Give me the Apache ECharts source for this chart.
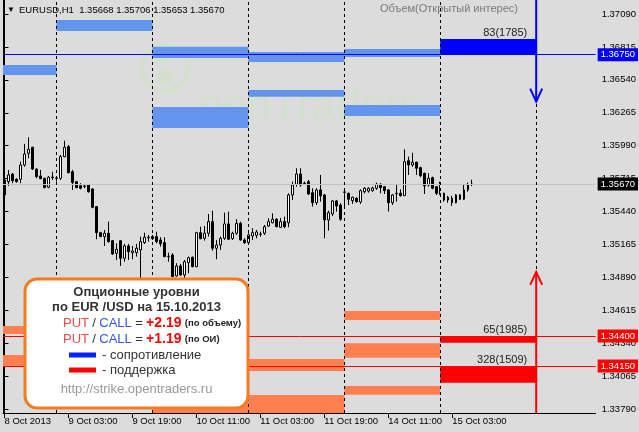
<!DOCTYPE html>
<html><head><meta charset="utf-8">
<script src="https://cdn.jsdelivr.net/npm/echarts@6/dist/echarts.min.js"></script>
<style>html,body{margin:0;padding:0;background:#dcdcdc}#c{width:639px;height:432px}</style>
</head><body><div id="c"></div><script>
const symbolName = 'EURUSD,H1';
const opens = [1.35704,1.35690,1.35754,1.35710,1.35710,1.35829,1.35927,1.35977,1.35794,1.35737,
1.35718,1.35643,1.35723,1.35721,1.35718,1.35899,1.35982,1.35773,1.35690,1.35656,
1.35654,1.35662,1.35629,1.35481,1.35264,1.35231,1.35259,1.35197,1.35092,1.35197,
1.35050,1.35153,1.35097,1.35097,1.35120,1.35181,1.35222,1.35231,1.35231,1.35203,
1.35181,1.35064,1.35078,1.34903,1.34986,1.34911,1.35014,1.35059,1.34980,1.35264,
1.35217,1.35259,1.35356,1.35134,1.35161,1.35217,1.35337,1.35214,1.35259,1.35342,
1.35203,1.35181,1.35236,1.35242,1.35251,1.35259,1.35320,1.35347,1.35376,1.35309,
1.35356,1.35347,1.35579,1.35668,1.35754,1.35677,1.35690,1.35598,1.35514,1.35621,
1.35579,1.35370,1.35420,1.35529,1.35495,1.35604,1.35593,1.35531,1.35551,1.35520,
1.35606,1.35612,1.35615,1.35635,1.35668,1.35648,1.35621,1.35514,1.35590,1.35593,
1.35573,1.35865,1.35829,1.35852,1.35807,1.35760,1.35662,1.35723,1.35648,1.35593,
1.35593,1.35560,1.35551,1.35514,1.35579,1.35543,1.35621,1.35668];
const closes = [1.35579,1.35746,1.35698,1.35690,1.35829,1.35921,1.35960,1.35796,1.35732,1.35715,
1.35640,1.35727,1.35729,1.35718,1.35899,1.35977,1.35765,1.35682,1.35640,1.35635,
1.35651,1.35606,1.35476,1.35264,1.35231,1.35259,1.35189,1.35086,1.35125,1.35050,
1.35153,1.35105,1.35111,1.35134,1.35189,1.35226,1.35226,1.35214,1.35189,1.35170,
1.35064,1.35067,1.34897,1.34986,1.34911,1.35022,1.35055,1.34980,1.35264,1.35214,
1.35259,1.35356,1.35134,1.35161,1.35217,1.35337,1.35209,1.35259,1.35342,1.35203,
1.35181,1.35245,1.35264,1.35270,1.35253,1.35314,1.35356,1.35376,1.35314,1.35356,
1.35314,1.35579,1.35662,1.35754,1.35662,1.35673,1.35587,1.35514,1.35621,1.35571,
1.35370,1.35431,1.35529,1.35487,1.35376,1.35601,1.35543,1.35560,1.35523,1.35615,
1.35635,1.35635,1.35637,1.35668,1.35640,1.35615,1.35514,1.35579,1.35593,1.35573,
1.35857,1.35829,1.35852,1.35802,1.35740,1.35654,1.35718,1.35635,1.35593,1.35590,
1.35537,1.35537,1.35514,1.35579,1.35543,1.35621,1.35662,1.35670];
const lows = [1.35562,1.35654,1.35677,1.35682,1.35677,1.35815,1.35885,1.35788,1.35718,1.35710,
1.35635,1.35635,1.35704,1.35690,1.35704,1.35894,1.35760,1.35621,1.35635,1.35626,
1.35635,1.35598,1.35468,1.35209,1.35226,1.35153,1.35181,1.35078,1.35036,1.34986,
1.35022,1.35036,1.35042,1.35064,1.34883,1.35170,1.35189,1.35203,1.35175,1.35147,
1.35059,1.35022,1.34892,1.34897,1.34903,1.34883,1.34925,1.34975,1.34975,1.35209,
1.35197,1.35231,1.35114,1.35042,1.35120,1.35203,1.35203,1.35203,1.35245,1.35197,
1.35170,1.35175,1.35203,1.35217,1.35231,1.35245,1.35314,1.35342,1.35309,1.35303,
1.35301,1.35309,1.35537,1.35648,1.35648,1.35662,1.35579,1.35481,1.35495,1.35523,
1.35217,1.35281,1.35403,1.35440,1.35364,1.35481,1.35495,1.35504,1.35514,1.35504,
1.35593,1.35598,1.35606,1.35621,1.35593,1.35587,1.35440,1.35495,1.35523,1.35565,
1.35570,1.35746,1.35815,1.35746,1.35727,1.35587,1.35648,1.35626,1.35579,1.35579,
1.35523,1.35514,1.35487,1.35509,1.35537,1.35537,1.35606,1.35653];
const highs = [1.35721,1.35788,1.35760,1.35718,1.35857,1.36005,1.36061,1.35982,1.35802,1.35788,
1.35723,1.35737,1.35773,1.35732,1.35913,1.36032,1.35996,1.35788,1.35696,1.35677,
1.35671,1.35671,1.35635,1.35487,1.35272,1.35287,1.35356,1.35203,1.35175,1.35203,
1.35170,1.35170,1.35153,1.35170,1.35231,1.35264,1.35245,1.35245,1.35272,1.35226,
1.35226,1.35097,1.35092,1.35009,1.35003,1.35036,1.35064,1.35064,1.35272,1.35314,
1.35320,1.35420,1.35448,1.35203,1.35231,1.35431,1.35439,1.35272,1.35376,1.35356,
1.35217,1.35259,1.35301,1.35287,1.35272,1.35328,1.35384,1.35426,1.35384,1.35387,
1.35398,1.35593,1.35690,1.35802,1.35802,1.35690,1.35704,1.35635,1.35635,1.35746,
1.35587,1.35448,1.35537,1.35537,1.35509,1.35621,1.35598,1.35565,1.35560,1.35626,
1.35643,1.35643,1.35648,1.35682,1.35677,1.35654,1.35626,1.35587,1.35662,1.35626,
1.35960,1.35899,1.35932,1.35857,1.35815,1.35765,1.35760,1.35732,1.35654,1.35690,
1.35598,1.35571,1.35571,1.35587,1.35587,1.35662,1.35682,1.35706];

const timeTickIndex = [0,16,32,48,64,80,96,112];
const timeTickLabels = ['8 Oct 2013','9 Oct 03:00','9 Oct 19:00','10 Oct 11:00','11 Oct 03:00','11 Oct 19:00','14 Oct 11:00','15 Oct 03:00'];
const priceTicks = [1.33790,1.34065,1.34340,1.34615,1.34890,1.35165,1.35440,1.35715,1.35990,1.36265,1.36540,1.36815,1.37090];
const dayStarts = [13,37,61,85,109,133];
const priceMin = 1.33758, priceMax = 1.37207;

// [fromBar, toBar, upperPrice, lowerPrice]
const resistanceZones = [
  [-11,13,1.36664,1.36581],
  [13,37,1.37040,1.36948],
  [37,61,1.36817,1.36722],
  [37,61,1.36314,1.36138],
  [61,85,1.36773,1.36689],
  [61,85,1.36456,1.36400],
  [85,109,1.36798,1.36730],
  [85,109,1.36330,1.36238]
];
const supportZones = [
  [-11,13,1.34485,1.34418],
  [-11,13,1.34243,1.34151],
  [37,61,1.33884,1.33758],
  [61,85,1.34209,1.34109],
  [61,85,1.33909,1.33758],
  [85,109,1.34610,1.34535],
  [85,109,1.34341,1.34220],
  [85,109,1.33984,1.33911]
];
const strongZones = [
  [109,133,1.36881,1.36750],
  [109,133,1.34400,1.34345],
  [109,133,1.34150,1.34011]
];
const strongLabels = ['83(1785)','65(1985)','328(1509)'];
const strongKinds = ['res','sup','sup'];
const levelLines = [1.36750,1.34400,1.34150];
const levelKinds = ['res','sup','sup'];
// [bar, fromPrice, tipPrice]
const arrows = [[133,1.37207,1.36358],[133,1.33758,1.34936]];
const arrowKinds = ['res','sup'];

const FONT = "'Liberation Sans', Arial, sans-serif";
const last = closes.length - 1;
const candleData = opens.map((o,i)=>[i,o,closes[i],lows[i],highs[i]]);

const chart = echarts.init(document.getElementById('c'), null, {renderer:'canvas'});

function clipTo(params, r){
  const cs = params.coordSys;
  return echarts.graphic.clipRectByRect(r, {x:cs.x, y:cs.y, width:cs.width, height:cs.height});
}
function zoneRenderer(fill){
  return function(params, api){
    const a = api.coord([api.value(0), api.value(2)]);
    const b = api.coord([api.value(1), api.value(3)]);
    const r = clipTo(params, {x:a[0], y:a[1], width:b[0]-a[0], height:b[1]-a[1]});
    if(!r) return null;
    return {type:'rect', shape:r, style:{fill:fill}};
  };
}

const tagColors = {res:'#0000ff', sup:'#ff0000'};
const markLines = levelLines.map((v,i)=>({
  yAxis:v,
  lineStyle:{color:tagColors[levelKinds[i]], width:1, type:'solid'},
  label:{show:true, position:'end', distance:2, formatter:v.toFixed(5), color:'#fff',
    backgroundColor:tagColors[levelKinds[i]], padding:[2,3,1,3], fontSize:9.5, fontFamily:FONT}
}));
markLines.unshift({
  yAxis:closes[last],
  lineStyle:{color:'#c0c0c0', width:1, type:'solid'},
  label:{show:true, position:'end', distance:2, formatter:closes[last].toFixed(5), color:'#fff',
    backgroundColor:'#000', padding:[2,3,1,3], fontSize:9.5, fontFamily:FONT}
});

const wm = 'rgba(205,228,195,0.55)';
const option = {
  animation:false,
  backgroundColor:'#dcdcdc',
  grid:{left:3, right:43, top:0, bottom:19, show:false},
  xAxis:{type:'value', min:-0.375, max:147.875,
    axisLine:{show:true, lineStyle:{color:'#000', width:1}},
    axisTick:{show:true, customValues:timeTickIndex, length:5, lineStyle:{color:'#000'}},
    axisLabel:{show:true, customValues:timeTickIndex, align:'left', margin:3, color:'#000', fontSize:9.5, fontFamily:FONT,
      formatter:(v)=>{const k=timeTickIndex.indexOf(Math.round(v)); return k>=0?timeTickLabels[k]:'';}},
    splitLine:{show:false}},
  yAxis:[{type:'value', position:'right', min:priceMin, max:priceMax,
    axisLine:{show:true, lineStyle:{color:'#000', width:1}},
    axisTick:{show:true, customValues:priceTicks, length:4, lineStyle:{color:'#000'}},
    axisLabel:{show:true, customValues:priceTicks, margin:6, color:'#000', fontSize:9.5, fontFamily:FONT,
      formatter:(v)=>v.toFixed(5)},
    splitLine:{show:false}},
   {type:'value', position:'left', min:priceMin, max:priceMax,
    axisLine:{show:true, lineStyle:{color:'#000', width:1}},
    axisTick:{show:false}, axisLabel:{show:false}, splitLine:{show:false}}],
  graphic:[
    {type:'text', z:0, x:198, y:86, silent:true,
      style:{text:'penTraders', font:'44px '+FONT, fill:wm, align:'left', verticalAlign:'alphabetic'}},
    {type:'circle', z:0, silent:true, shape:{cx:165, cy:68, r:23},
      style:{fill:'rgba(0,0,0,0)', stroke:wm, lineWidth:5}},
    {type:'circle', z:0, silent:true, shape:{cx:165, cy:58, r:6}, style:{fill:wm}},
    {type:'circle', z:0, silent:true, shape:{cx:165, cy:77, r:9}, style:{fill:wm}},
    {type:'text', z:50, x:7, y:10, silent:true,
      style:{text:'▼', font:'8px '+FONT, fill:'#000', align:'left', verticalAlign:'middle'}},
    {type:'text', z:50, x:19, y:10, silent:true,
      style:{text:symbolName+'  '+opens[last].toFixed(5)+' '+highs[last].toFixed(5)+' '+lows[last].toFixed(5)+' '+closes[last].toFixed(5),
        font:'9.5px '+FONT, fill:'#000', align:'left', verticalAlign:'middle'}},
    {type:'text', z:50, x:518, y:9, silent:true,
      style:{text:'Объем(Открытый интерес)', font:'11px '+FONT, fill:'#7a7a7a', align:'right', verticalAlign:'middle'}},
    {type:'rect', z:100, silent:true, shape:{x:25, y:279, width:223, height:129, r:12},
      style:{fill:'#ffffff', stroke:'#f47b20', lineWidth:3}},
    {type:'text', z:101, x:136.5, y:292, silent:true,
      style:{text:'Опционные уровни', font:'bold 13px '+FONT, fill:'#333', align:'center', verticalAlign:'middle'}},
    {type:'text', z:101, x:136.5, y:307.5, silent:true,
      style:{text:'по EUR /USD на 15.10.2013', font:'bold 13px '+FONT, fill:'#333', align:'center', verticalAlign:'middle'}},
    {type:'text', z:101, x:63, y:323.5, silent:true,
      style:{text:'{p|PUT} {s|/} {c|CALL} {s|=} {v|+2.19} {n|(по объему)}', align:'left', verticalAlign:'middle',
        rich:{p:{fill:'#e84a4a', fontSize:13, fontFamily:FONT}, s:{fill:'#333', fontSize:13, fontFamily:FONT},
          c:{fill:'#3656d8', fontSize:13, fontFamily:FONT}, v:{fill:'#ff0000', fontSize:14, fontWeight:'bold', fontFamily:FONT},
          n:{fill:'#222', fontSize:9.5, fontWeight:'bold', fontFamily:FONT}}}},
    {type:'text', z:101, x:63, y:339, silent:true,
      style:{text:'{p|PUT} {s|/} {c|CALL} {s|=} {v|+1.19} {n|(по ОИ)}', align:'left', verticalAlign:'middle',
        rich:{p:{fill:'#e84a4a', fontSize:13, fontFamily:FONT}, s:{fill:'#333', fontSize:13, fontFamily:FONT},
          c:{fill:'#3656d8', fontSize:13, fontFamily:FONT}, v:{fill:'#ff0000', fontSize:14, fontWeight:'bold', fontFamily:FONT},
          n:{fill:'#222', fontSize:9.5, fontWeight:'bold', fontFamily:FONT}}}},
    {type:'rect', z:101, silent:true, shape:{x:69, y:352.5, width:27, height:5}, style:{fill:'#0022ff'}},
    {type:'text', z:101, x:102, y:355, silent:true,
      style:{text:'- сопротивление', font:'13px '+FONT, fill:'#333', align:'left', verticalAlign:'middle'}},
    {type:'rect', z:101, silent:true, shape:{x:69, y:367.5, width:27, height:5}, style:{fill:'#ff0000'}},
    {type:'text', z:101, x:102, y:370, silent:true,
      style:{text:'- поддержка', font:'13px '+FONT, fill:'#333', align:'left', verticalAlign:'middle'}},
    {type:'text', z:101, x:136.5, y:389, silent:true,
      style:{text:'http://strike.opentraders.ru', font:'13px '+FONT, fill:'#999', align:'center', verticalAlign:'middle'}}
  ],
  series:[
    {type:'custom', name:'resistance', z:1, renderItem:zoneRenderer('#6495ed'), encode:{x:[0,1], y:[2,3]}, data:resistanceZones, silent:true},
    {type:'custom', name:'support', z:1, renderItem:zoneRenderer('#ff7f50'), encode:{x:[0,1], y:[2,3]}, data:supportZones, silent:true},
    {type:'custom', name:'strong', z:2, encode:{x:[0,1], y:[2,3]}, data:strongZones, silent:true,
      renderItem:function(params, api){
        const a = api.coord([api.value(0), api.value(2)]);
        const b = api.coord([api.value(1), api.value(3)]);
        const k = strongKinds[params.dataIndex];
        return {type:'group', children:[
          {type:'rect', shape:{x:a[0], y:a[1], width:b[0]-a[0], height:b[1]-a[1]}, style:{fill:tagColors[k]}},
          {type:'text', x:b[0]-9, y:a[1]-1, style:{text:strongLabels[params.dataIndex], font:'11px '+FONT, fill:'#222', align:'right', verticalAlign:'bottom'}}
        ]};
      }},
    {type:'line', name:'levels', data:[], z:3, silent:true,
      markLine:{silent:true, precision:5, symbol:['none','none'], animation:false, data:markLines}},
    {type:'line', name:'days', data:[], z:3, silent:true,
      markLine:{silent:true, precision:3, symbol:['none','none'], animation:false, label:{show:false},
        lineStyle:{color:'#000', width:1, type:[3,3]},
        data:dayStarts.map(d=>({xAxis:d}))}},
    {type:'candlestick', name:symbolName, z:4, barWidth:2, encode:{x:0, y:[1,2,3,4]}, data:candleData, silent:true,
      itemStyle:{color:'#ffffff', color0:'#000000', borderColor:'#000000', borderColor0:'#000000', borderWidth:1}},
    {type:'custom', name:'arrows', z:6, encode:{x:0, y:[1,2]}, data:arrows, silent:true,
      renderItem:function(params, api){
        const f = api.coord([api.value(0), api.value(1)]);
        const t = api.coord([api.value(0), api.value(2)]);
        const dir = t[1] > f[1] ? -1 : 1;
        const col = tagColors[arrowKinds[params.dataIndex]];
        return {type:'group', children:[
          {type:'line', shape:{x1:f[0], y1:f[1], x2:t[0], y2:t[1]}, style:{stroke:col, lineWidth:2}},
          {type:'polyline', shape:{points:[[t[0]-6, t[1]+dir*13],[t[0], t[1]],[t[0]+6, t[1]+dir*13]]}, style:{stroke:col, lineWidth:2, fill:null}}
        ]};
      }}
  ]
};
chart.setOption(option);
</script></body></html>
